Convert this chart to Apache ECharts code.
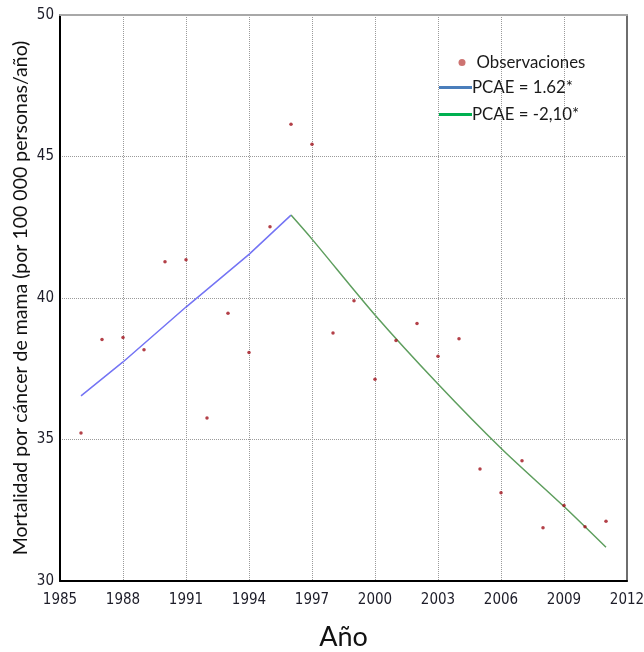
<!DOCTYPE html>
<html>
<head>
<meta charset="utf-8">
<script src="https://cdn.jsdelivr.net/npm/echarts@6/dist/echarts.min.js"></script>
<style>html,body{margin:0;padding:0;background:#fff;}#c{width:644px;height:652px;}</style>
</head>
<body>
<div id="c"></div>
<script>
var years = [1986,1987,1988,1989,1990,1991,1992,1993,1994,1995,1996,1997,1998,1999,2000,2001,2002,2003,2004,2005,2006,2007,2008,2009,2010,2011];
var observed = [35.23,38.53,38.60,38.17,41.28,41.35,35.76,39.46,38.07,42.52,46.14,45.43,38.76,39.90,37.13,38.50,39.10,37.94,38.56,33.96,33.12,34.25,31.88,32.67,31.92,32.11];
var fit1Years = [1986,1988,1991,1994,1996];
var fit1Values = [36.54,37.74,39.68,41.54,42.93];
var fit2Years = [1996,1997,2000,2003,2006,2009,2011];
var fit2Values = [42.93,42.08,39.40,36.96,34.69,32.63,31.19];
var seriesNames = ['Observaciones','PCAE = 1.62*','PCAE = -2,10*'];
var xTitle = 'Año';
var yTitle = 'Mortalidad por cáncer de mama (por 100 000 personas/año)';

function pairs(xs, ys){ return xs.map(function(x,i){ return [x, ys[i]]; }); }

var chart = echarts.init(document.getElementById('c'), null, {renderer:'canvas'});
var tickFont = {fontFamily:'DejaVu Sans Condensed', fontSize:15, color:'#1c1c28'};
var titleFont = 'Lato';
chart.setOption({
  animation:false,
  backgroundColor:'#fff',
  grid:{left:60, right:17, top:15, bottom:71, containLabel:false, outerBoundsMode:'none'},
  legend:[
    {data:[{name:seriesNames[0], icon:'circle', itemStyle:{color:'#C0504D'}}],
     left:458.5, top:54, padding:0, itemWidth:7, itemHeight:7,
     textStyle:{fontFamily:titleFont, fontSize:16.8, color:'#1a1a1a', padding:[0,0,0,6]}},
    {data:[{name:seriesNames[1], icon:'rect', itemStyle:{color:'#4A7EBB'}},
           {name:seriesNames[2], icon:'rect', itemStyle:{color:'#00B050'}}],
     orient:'vertical', left:439, top:79, padding:0, itemWidth:33, itemHeight:3, itemGap:10,
     textStyle:{fontFamily:titleFont, fontSize:16.8, color:'#1a1a1a', padding:[0,0,0,-5]}}
  ],
  xAxis:[{
    type:'value', min:1985, max:2012, interval:3,
    name:xTitle, nameLocation:'middle', nameGap:43, nameMoveOverlap:false,
    nameTextStyle:{fontFamily:titleFont, fontSize:27, color:'#111'},
    axisLine:{lineStyle:{color:'#000', width:2}},
    axisTick:{show:false},
    axisLabel:Object.assign({margin:12, formatter:function(v){return String(v);}}, tickFont),
    splitLine:{show:true, lineStyle:{color:'#9a9a9a', type:[1,1], width:1}}
  },{
    type:'value', min:1985, max:2012, position:'top',
    axisLine:{show:true, onZero:false, lineStyle:{color:'#a8a8a8', width:2}},
    axisTick:{show:false}, axisLabel:{show:false}, splitLine:{show:false}
  }],
  yAxis:[{
    type:'value', min:30, max:50, interval:5,
    name:yTitle, nameLocation:'middle', nameGap:29, nameMoveOverlap:false,
    nameTextStyle:{fontFamily:titleFont, fontSize:19.5, color:'#111'},
    axisLine:{show:true, lineStyle:{color:'#000', width:2}},
    axisTick:{show:false},
    axisLabel:Object.assign({margin:6, formatter:function(v){return String(v);}}, tickFont),
    splitLine:{show:true, lineStyle:{color:'#9a9a9a', type:[1,1], width:1}}
  },{
    type:'value', min:30, max:50, position:'right',
    axisLine:{show:true, onZero:false, lineStyle:{color:'#6e6e6e', width:2}},
    axisTick:{show:false}, axisLabel:{show:false}, splitLine:{show:false}
  }],
  series:[
    {name:seriesNames[0], type:'scatter', data:pairs(years, observed), symbol:'circle', symbolSize:3.5,
     itemStyle:{color:'#A0101A'}, z:5},
    {name:seriesNames[1], type:'line', data:pairs(fit1Years, fit1Values), showSymbol:false, symbol:'none',
     lineStyle:{color:'#7474F4', width:1.5}, z:4},
    {name:seriesNames[2], type:'line', data:pairs(fit2Years, fit2Values), showSymbol:false, symbol:'none', smooth:0.3,
     lineStyle:{color:'#5E9E5E', width:1.5}, z:4}
  ]
});
</script>
</body>
</html>
